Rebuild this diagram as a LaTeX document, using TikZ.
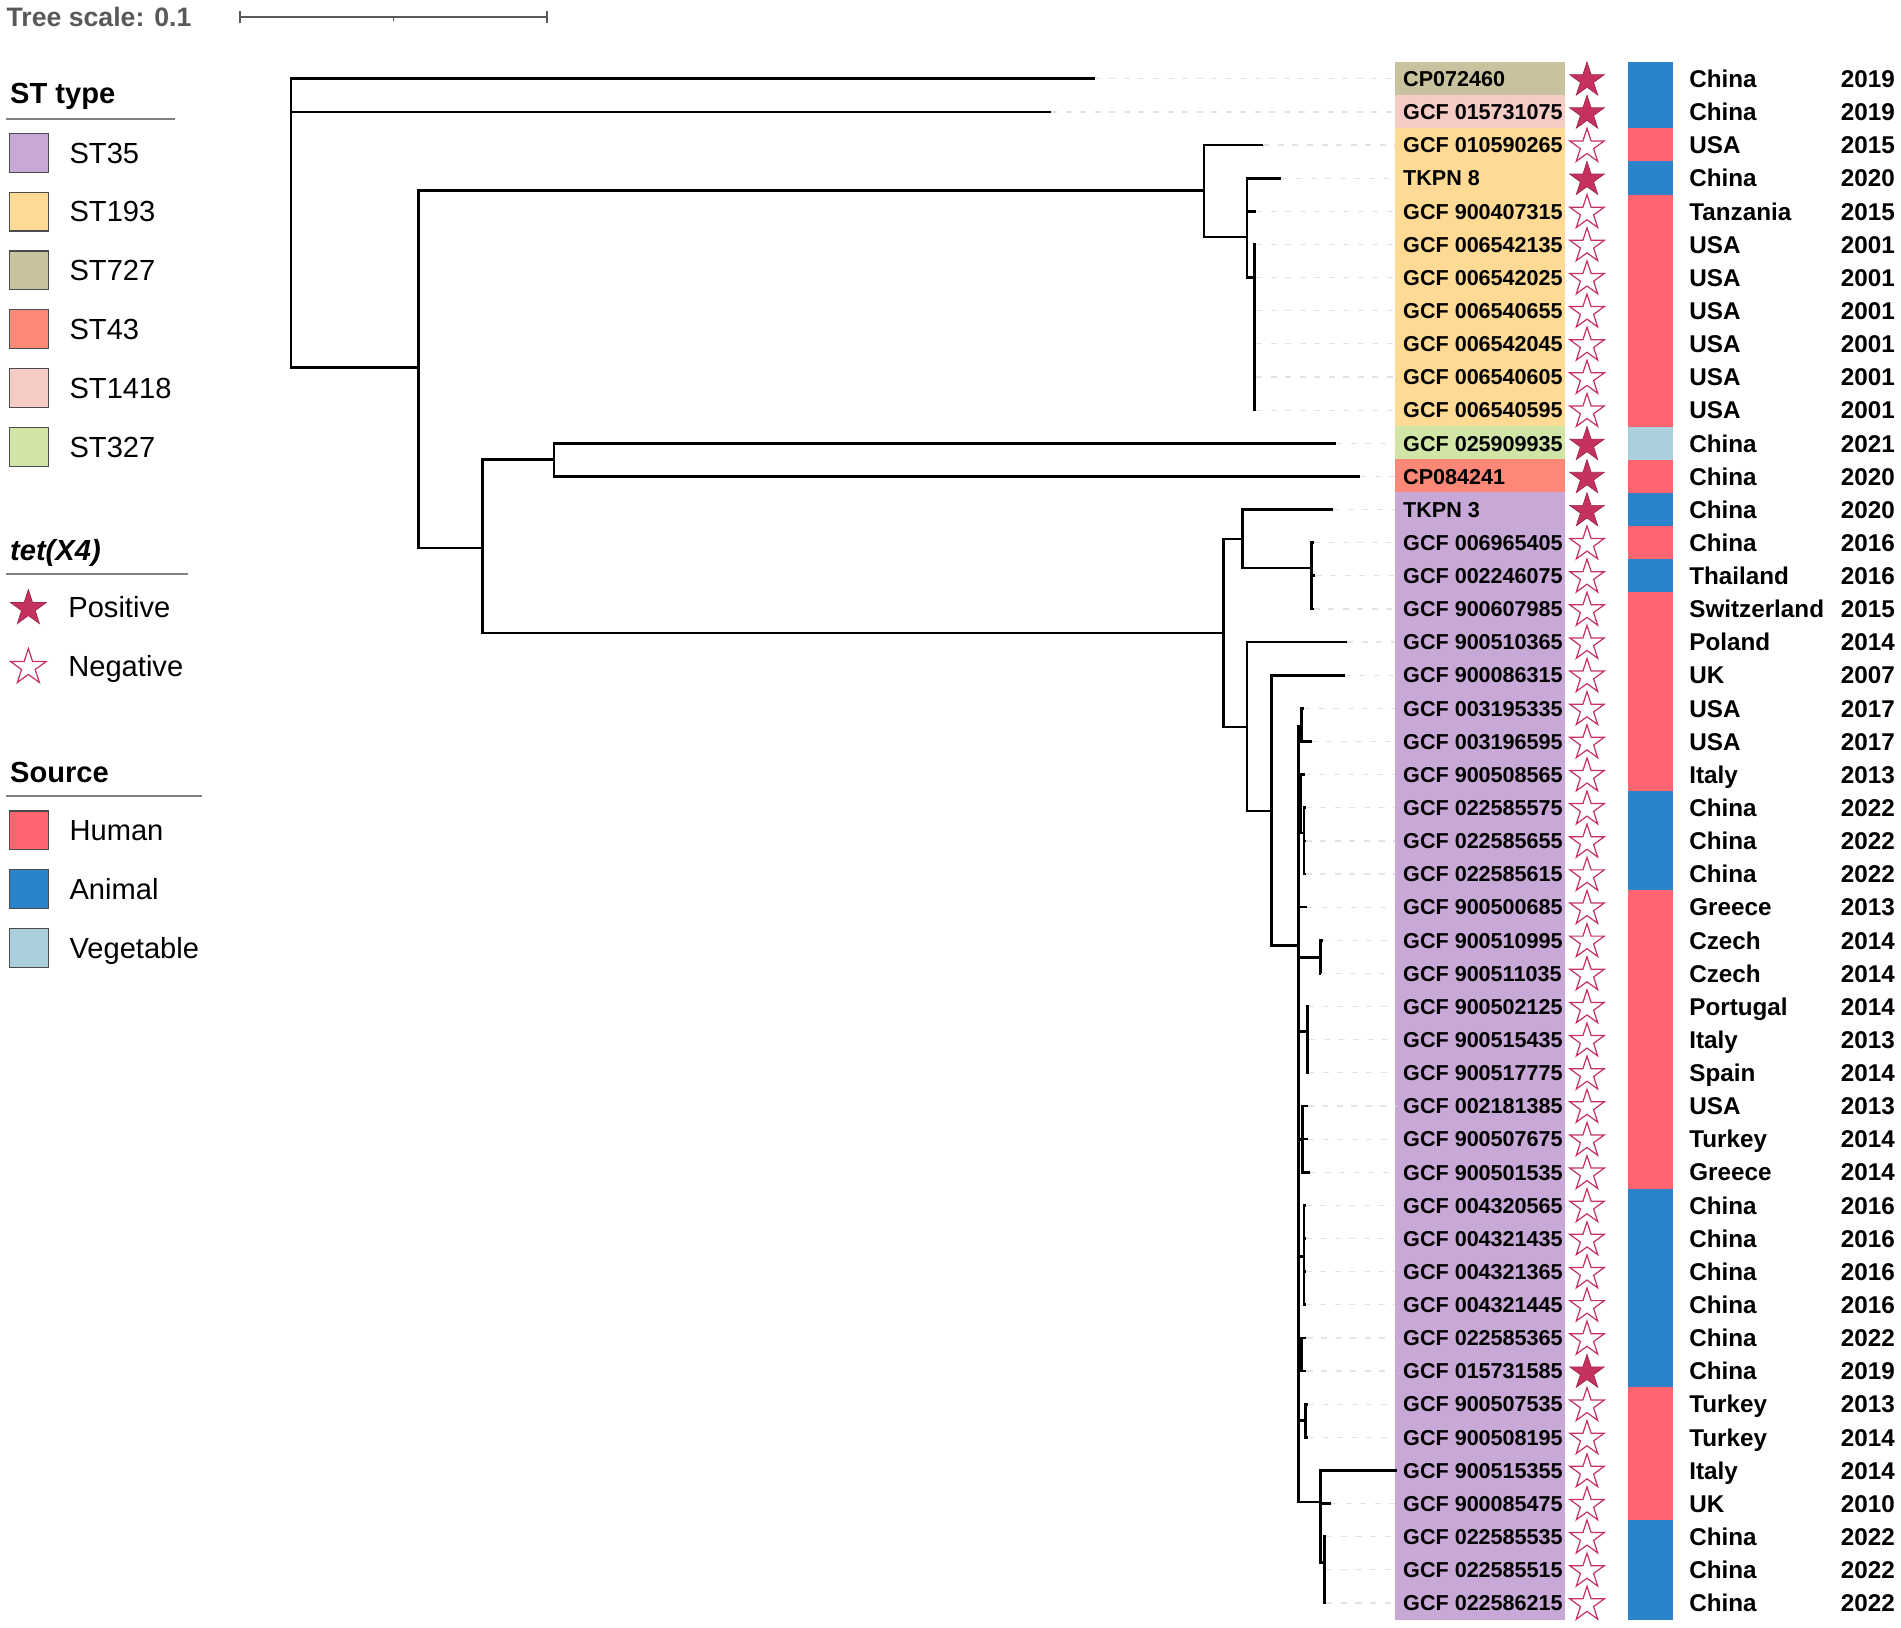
\documentclass[tikz,border=0pt]{standalone}
\usepackage{fontspec}
\setmainfont{Liberation Sans}
\usetikzlibrary{shapes.geometric,positioning}

\definecolor{stA}{HTML}{C8A8D6} % ST35
\definecolor{stB}{HTML}{FFDA94} % ST193
\definecolor{stC}{HTML}{C8C29E} % ST727
\definecolor{stD}{HTML}{FD8878} % ST43
\definecolor{stE}{HTML}{F5CBC6} % ST1418
\definecolor{stF}{HTML}{D1E6A6} % ST327
\definecolor{hum}{HTML}{FE6570}
\definecolor{ani}{HTML}{2B84CB}
\definecolor{veg}{HTML}{A9D0DC}
\definecolor{tetred}{HTML}{C5325F}

\begin{document}
\begin{tikzpicture}
  [x=0.5pt,y=-0.5pt,
    branch/.style={line width=1.1pt},
    leader/.style={gray!22,line width=0.5pt,dash pattern=on 2.5pt off 3.5pt},
    labbox/.style={anchor=west,minimum height=13.67pt,inner xsep=1.5pt,inner ysep=0pt,
      text height=6.4pt,text depth=0pt,line width=0.4pt,font=\fontsize{8.9}{10}\selectfont\bfseries},
    tetpos/.style={star,star points=5,star point ratio=2.618,minimum size=15pt,inner sep=0pt,
      fill=tetred,draw=tetred!80!black,line width=0.3pt},
    tetneg/.style={star,star points=5,star point ratio=2.618,minimum size=15pt,inner sep=0pt,
      fill=white,draw=tetred,line width=0.5pt},
    celltext/.style={anchor=base west,inner sep=0pt,font=\fontsize{10}{12}\selectfont\bfseries},
    legbox/.style={draw=black!70,line width=0.5pt,minimum size=16pt,inner sep=0pt},
    legtext/.style={anchor=west,inner sep=0pt,text height=8.6pt,text depth=0pt,font=\fontsize{12}{14}\selectfont},
    leghead/.style={anchor=west,inner sep=0pt,text height=8.6pt,text depth=0pt,font=\fontsize{12}{14}\selectfont\bfseries},
    legrule/.style={black!50,line width=0.8pt}]
  \useasboundingbox (0,0) rectangle (1568,1342.8);

  % tree scale
  \node[anchor=west,inner sep=0pt,text=black!65,font=\fontsize{11}{13}\selectfont\bfseries] (tscale) at (5,14) {Tree scale: 0.1};
  \coordinate (sbL) at (198,14);
  \coordinate (sbR) at (451,14);
  \draw[black!65,line width=0.6pt] (sbL) -- (sbR);
  \draw[black!65,line width=0.6pt] (sbL) ++(0,-5) -- ++(0,10) (sbR) ++(0,-5) -- ++(0,10) (324.5,14) -- ++(0,3);

  % legend
  \node[leghead] (hst) at (8,77) {ST type};
  \draw[legrule] (5,98.5) -- (144,98.5);
  \foreach \col/\txt/\yy in {stA/ST35/126,stB/ST193/174.5,stC/ST727/223,stD/ST43/271.5,stE/ST1418/320,stF/ST327/368.5}
  {
    \node[legbox,fill=\col] (k\txt) at (23.7,\yy) {};
    \node[legtext] (kt\txt) at (57,\yy) {\txt};
  }
  \node[leghead,font=\fontsize{12}{14}\selectfont\bfseries\itshape] (htet) at (8,453.6) {tet(X4)};
  \draw[legrule] (5,473.4) -- (155,473.4);
  \node[tetpos,minimum size=15.5pt] (kpos) at (23.4,501.8) {};
  \node[legtext] (ktpos) at (56,500.4) {Positive};
  \node[tetneg,minimum size=15.5pt] (kneg) at (23.4,550.4) {};
  \node[legtext] (ktneg) at (56,549) {Negative};
  \node[leghead] (hsrc) at (8,636.5) {Source};
  \draw[legrule] (5,656.5) -- (167,656.5);
  \foreach \col/\txt/\yy in {hum/Human/684.9,ani/Animal/733.3,veg/Vegetable/781.7}
  {
    \node[legbox,fill=\col] (k\txt) at (23.7,\yy) {};
    \node[legtext] (kt\txt) at (57,\yy) {\txt};
  }

  % tips, labels, tet(X4), source, country, year
  \foreach \i/\tx/\lab/\st/\tet/\src/\ctry/\yr in {
    1/903/CP072460/stC/tetpos/ani/China/2019,
    2/867/GCF 015731075/stE/tetpos/ani/China/2019,
    3/1042/GCF 010590265/stB/tetneg/hum/USA/2015,
    4/1057/TKPN 8/stB/tetpos/ani/China/2020,
    5/1036/GCF 900407315/stB/tetneg/hum/Tanzania/2015,
    6/1036/GCF 006542135/stB/tetneg/hum/USA/2001,
    7/1036/GCF 006542025/stB/tetneg/hum/USA/2001,
    8/1036/GCF 006540655/stB/tetneg/hum/USA/2001,
    9/1036/GCF 006542045/stB/tetneg/hum/USA/2001,
    10/1036/GCF 006540605/stB/tetneg/hum/USA/2001,
    11/1036/GCF 006540595/stB/tetneg/hum/USA/2001,
    12/1102/GCF 025909935/stF/tetpos/veg/China/2021,
    13/1122/CP084241/stD/tetpos/hum/China/2020,
    14/1099.5/TKPN 3/stA/tetpos/ani/China/2020,
    15/1083.5/GCF 006965405/stA/tetneg/hum/China/2016,
    16/1085/GCF 002246075/stA/tetneg/ani/Thailand/2016,
    17/1083.5/GCF 900607985/stA/tetneg/hum/Switzerland/2015,
    18/1111/GCF 900510365/stA/tetneg/hum/Poland/2014,
    19/1109/GCF 900086315/stA/tetneg/hum/UK/2007,
    20/1075.5/GCF 003195335/stA/tetneg/hum/USA/2017,
    21/1082/GCF 003196595/stA/tetneg/hum/USA/2017,
    22/1076/GCF 900508565/stA/tetneg/hum/Italy/2013,
    23/1077/GCF 022585575/stA/tetneg/ani/China/2022,
    24/1077/GCF 022585655/stA/tetneg/ani/China/2022,
    25/1077/GCF 022585615/stA/tetneg/ani/China/2022,
    26/1078/GCF 900500685/stA/tetneg/hum/Greece/2013,
    27/1091/GCF 900510995/stA/tetneg/hum/Czech/2014,
    28/1089.5/GCF 900511035/stA/tetneg/hum/Czech/2014,
    29/1079/GCF 900502125/stA/tetneg/hum/Portugal/2014,
    30/1080/GCF 900515435/stA/tetneg/hum/Italy/2013,
    31/1079/GCF 900517775/stA/tetneg/hum/Spain/2014,
    32/1078.5/GCF 002181385/stA/tetneg/hum/USA/2013,
    33/1079/GCF 900507675/stA/tetneg/hum/Turkey/2014,
    34/1080.5/GCF 900501535/stA/tetneg/hum/Greece/2014,
    35/1077/GCF 004320565/stA/tetneg/ani/China/2016,
    36/1077/GCF 004321435/stA/tetneg/ani/China/2016,
    37/1077/GCF 004321365/stA/tetneg/ani/China/2016,
    38/1077/GCF 004321445/stA/tetneg/ani/China/2016,
    39/1077.6/GCF 022585365/stA/tetneg/ani/China/2022,
    40/1077.6/GCF 015731585/stA/tetpos/ani/China/2019,
    41/1079/GCF 900507535/stA/tetneg/hum/Turkey/2013,
    42/1079/GCF 900508195/stA/tetneg/hum/Turkey/2014,
    43/1152/GCF 900515355/stA/tetneg/hum/Italy/2014,
    44/1098/GCF 900085475/stA/tetneg/hum/UK/2010,
    45/1094/GCF 022585535/stA/tetneg/ani/China/2022,
    46/1094/GCF 022585515/stA/tetneg/ani/China/2022,
    47/1094/GCF 022586215/stA/tetneg/ani/China/2022}
  {
    \pgfmathsetmacro\yy{65+(\i-1)*27.33}
    \coordinate (t\i) at (\tx,\yy);
    \node[labbox,fill=\st,draw=\st] (l\i) at (1151,\yy) {\makebox[66.6pt][l]{\hspace*{1.5pt}\lab}};
    \draw[leader] (t\i) -- (l\i.west);
    \fill[\src] (1343,\yy-13.8) rectangle (1380,\yy+13.8);
    \node[\tet] (s\i) at (1309,\yy+1.2) {};
    \node[celltext] (c\i) at (1393,\yy+7.2) {\ctry};
    \node[celltext] (y\i) at (1518,\yy+7.2) {\yr};
  }

  % internal nodes of the tree
  \coordinate (nR) at (240,184);
  \coordinate (nA) at (345,303);
  \coordinate (nB) at (993,157);
  \coordinate (nB2) at (1028.5,195.5);
  \coordinate (nB3) at (1035,229);
  \coordinate (nC) at (398,452);
  \coordinate (nD) at (457,379);
  \coordinate (nE) at (1009,522);
  \coordinate (nF) at (1025,444.6);
  \coordinate (nF2) at (1082,468.5);
  \coordinate (nG) at (1028.5,599.6);
  \coordinate (nH) at (1049,669);
  \coordinate (nI) at (1071,780);
  \coordinate (nP) at (1073.5,599.5);
  \coordinate (nK) at (1073,663);
  \coordinate (nK2) at (1075.5,687);
  \coordinate (nQ) at (1089,790);
  \coordinate (nS) at (1078.5,851);
  \coordinate (nT) at (1074.5,940);
  \coordinate (nL) at (1075.5,1036.5);
  \coordinate (nM) at (1073.5,1117);
  \coordinate (nU) at (1076.7,1171.5);
  \coordinate (nJ) at (1089,1239);
  \coordinate (nN) at (1092.5,1289);

  \foreach \from/\to in {nR/t1,nR/t2,nR/nA,nA/nB,nA/nC,nB/t3,nB/nB2,nB2/t4,nB2/t5,nB2/nB3,
      nB3/t6,nB3/t7,nB3/t8,nB3/t9,nB3/t10,nB3/t11,nC/nD,nC/nE,nD/t12,nD/t13,
      nE/nF,nE/nG,nF/t14,nF/nF2,nF2/t15,nF2/t16,nF2/t17,nG/t18,nG/nH,nH/t19,nH/nI,
      nI/nP,nI/nK,nI/t26,nI/nQ,nI/nS,nI/nT,nI/nL,nI/nM,nI/nU,nI/nJ,
      nP/t20,nP/t21,nK/t22,nK/nK2,nK2/t23,nK2/t24,nK2/t25,nQ/t27,nQ/t28,
      nS/t29,nS/t30,nS/t31,nT/t32,nT/t33,nT/t34,nL/t35,nL/t36,nL/t37,nL/t38,
      nM/t39,nM/t40,nU/t41,nU/t42,nJ/t43,nJ/t44,nJ/nN,nN/t45,nN/t46,nN/t47}
  \draw[branch] (\from) |- (\to);
\end{tikzpicture}
\end{document}
